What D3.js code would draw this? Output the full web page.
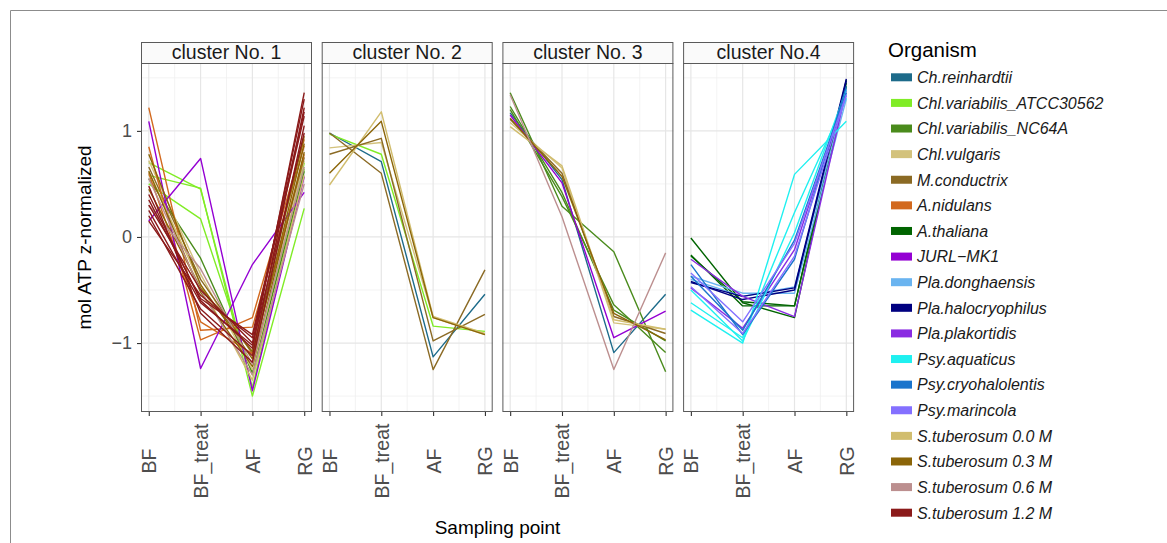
<!DOCTYPE html>
<html>
<head>
<meta charset="utf-8">
<script src="https://cdn.jsdelivr.net/npm/d3@7"></script>
<style>
  html, body { margin: 0; padding: 0; background: #fff; }
  svg { display: block; font-family: "Liberation Sans", Arial, Helvetica, sans-serif; }
</style>
</head>
<body>
<svg id="chart" width="1167" height="543"></svg>
<script>
// Sampling points along the x axis
const samplingPoints = ["BF", "BF_treat", "AF", "RG"];

// Facet titles
const clusterNames = ["cluster No. 1", "cluster No. 2", "cluster No. 3", "cluster No.4"];

// y axis ticks
const yTicks = [-1, 0, 1];

// Organisms in legend order, with their colours
const organisms = [
  "Ch.reinhardtii", "Chl.variabilis_ATCC30562", "Chl.variabilis_NC64A", "Chl.vulgaris",
  "M.conductrix", "A.nidulans", "A.thaliana", "JURL\u2212MK1", "Pla.donghaensis",
  "Pla.halocryophilus", "Pla.plakortidis", "Psy.aquaticus", "Psy.cryohalolentis",
  "Psy.marincola", "S.tuberosum 0.0 M", "S.tuberosum 0.3 M", "S.tuberosum 0.6 M",
  "S.tuberosum 1.2 M"
];
const organismColors = [
  "#1d6b8a", "#80ec26", "#4a8b1c", "#d3c27c",
  "#8b6a24", "#d2691e", "#006400", "#9400d3", "#6ab4f0",
  "#000080", "#8a2be2", "#1ff0f0", "#1a74cc",
  "#8470ff", "#d1bd6e", "#8b6508", "#bc8f8f",
  "#8b1a1a"
];

// z-normalized mol ATP profiles (BF, BF_treat, AF, RG) per cluster
const cluster1 = [
  ["A.nidulans", [1.22, -0.88, -0.85, 0.86]],
  ["A.nidulans", [0.85, -0.97, -0.76, 0.92]],
  ["A.nidulans", [0.60, -0.80, -1.10, 0.78]],
  ["JURL\u2212MK1", [1.09, -1.24, -0.26, 0.42]],
  ["JURL\u2212MK1", [0.15, 0.74, -1.45, 0.57]],
  ["Chl.variabilis_ATCC30562", [0.58, 0.46, -1.50, 0.27]],
  ["Chl.variabilis_ATCC30562", [0.70, 0.45, -1.42, 0.64]],
  ["Chl.variabilis_ATCC30562", [0.50, 0.17, -1.30, 0.70]],
  ["Chl.variabilis_NC64A", [0.55, -0.20, -1.28, 0.62]],
  ["Chl.vulgaris", [0.72, -0.35, -1.25, 0.72]],
  ["M.conductrix", [0.66, -0.40, -1.10, 0.75]],
  ["S.tuberosum 0.0 M", [0.62, -0.45, -1.35, 0.58]],
  ["S.tuberosum 0.3 M", [0.78, -0.45, -1.15, 0.88]],
  ["S.tuberosum 0.3 M", [0.62, -0.52, -1.22, 0.80]],
  ["S.tuberosum 0.3 M", [0.45, -0.48, -1.08, 0.95]],
  ["S.tuberosum 0.6 M", [0.55, -0.50, -1.30, 0.50]],
  ["S.tuberosum 0.6 M", [0.30, -0.30, -1.20, 0.66]],
  ["S.tuberosum 1.2 M", [0.40, -0.60, -1.05, 1.36]],
  ["S.tuberosum 1.2 M", [0.30, -0.50, -1.00, 1.30]],
  ["S.tuberosum 1.2 M", [0.20, -0.68, -1.12, 1.22]],
  ["S.tuberosum 1.2 M", [0.15, -0.55, -0.95, 1.14]],
  ["S.tuberosum 1.2 M", [0.48, -0.72, -1.18, 1.05]],
  ["S.tuberosum 1.2 M", [0.25, -0.62, -1.02, 0.98]],
  ["S.tuberosum 1.2 M", [0.35, -0.58, -0.92, 1.18]]
];
const cluster2 = [
  ["Ch.reinhardtii", [0.98, 0.71, -1.13, -0.54]],
  ["Chl.variabilis_ATCC30562", [0.97, 0.78, -0.84, -0.89]],
  ["Chl.vulgaris", [0.84, 0.89, -0.76, -0.92]],
  ["M.conductrix", [0.78, 0.93, -0.98, -0.73]],
  ["M.conductrix", [0.98, 0.60, -1.25, -0.31]],
  ["S.tuberosum 0.0 M", [0.49, 1.18, -0.75, -0.91]],
  ["S.tuberosum 0.3 M", [0.60, 1.09, -0.76, -0.92]]
];
const cluster3 = [
  ["Ch.reinhardtii", [1.17, 0.54, -1.09, -0.54]],
  ["Chl.variabilis_NC64A", [1.36, 0.29, -0.14, -1.27]],
  ["Chl.variabilis_NC64A", [1.20, 0.38, -0.64, -1.09]],
  ["Chl.variabilis_NC64A", [1.23, 0.42, -0.69, -0.98]],
  ["Chl.vulgaris", [1.08, 0.65, -0.81, -0.87]],
  ["M.conductrix", [1.11, 0.60, -0.75, -0.91]],
  ["JURL\u2212MK1", [1.15, 0.51, -0.95, -0.70]],
  ["S.tuberosum 0.0 M", [1.04, 0.67, -0.78, -0.87]],
  ["S.tuberosum 0.3 M", [1.12, 0.57, -0.72, -0.97]],
  ["S.tuberosum 0.6 M", [1.34, 0.19, -1.25, -0.15]]
];
const cluster4 = [
  ["A.thaliana", [-0.01, -0.62, -0.76, 1.48]],
  ["A.thaliana", [-0.17, -0.65, -0.65, 1.45]],
  ["A.thaliana", [-0.18, -0.61, -0.65, 1.42]],
  ["Pla.donghaensis", [-0.37, -0.53, -0.53, 1.30]],
  ["Pla.donghaensis", [-0.40, -0.56, -0.47, 1.36]],
  ["Pla.halocryophilus", [-0.43, -0.56, -0.48, 1.49]],
  ["Pla.halocryophilus", [-0.42, -0.59, -0.50, 1.47]],
  ["Pla.plakortidis", [-0.21, -0.56, -0.75, 1.39]],
  ["Pla.plakortidis", [-0.48, -0.86, -0.12, 1.39]],
  ["Psy.aquaticus", [-0.69, -1.00, 0.59, 1.09]],
  ["Psy.aquaticus", [-0.50, -0.98, 0.04, 1.39]],
  ["Psy.aquaticus", [-0.62, -0.95, 0.23, 1.31]],
  ["Psy.cryohalolentis", [-0.26, -0.92, -0.21, 1.42]],
  ["Psy.cryohalolentis", [-0.37, -0.88, -0.03, 1.36]],
  ["Psy.marincola", [-0.34, -0.80, -0.06, 1.34]],
  ["Psy.marincola", [-0.47, -0.91, -0.18, 1.33]]
];
const clusterProfiles = [cluster1, cluster2, cluster3, cluster4];

// ---- layout ----
const svg = d3.select("#chart");
const panelLeft = 141, panelW = 171, panelGap = 9.7;
const panelTop = 63, panelBottom = 412;
const stripTop = 42;

const color = d3.scaleOrdinal().domain(organisms).range(organismColors);
const y = d3.scaleLinear().domain([-1.65, 1.64]).range([panelBottom, panelTop]);

// outer frame
svg.append("path")
  .attr("d", "M10.5,543 V10.5 H1167")
  .attr("fill", "none").attr("stroke", "#8c8c8c").attr("stroke-width", 1);

const xPos = samplingPoints.map((d, i) => i + 1);
const xMinor = [1.5, 2.5, 3.5];
const yMinor = [-1.5, -0.5, 0.5, 1.5];

const line = d3.line();

clusterNames.forEach((name, p) => {
  const x0 = panelLeft + p * (panelW + panelGap);
  const x = d3.scaleLinear().domain([0.85, 4.15]).range([x0, x0 + panelW]);
  const g = svg.append("g");

  // grid
  g.selectAll(".minx").data(xMinor).join("line")
    .attr("x1", d => x(d)).attr("x2", d => x(d))
    .attr("y1", panelTop).attr("y2", panelBottom)
    .attr("stroke", "#f0f0f0").attr("stroke-width", 0.8);
  g.selectAll(".miny").data(yMinor).join("line")
    .attr("x1", x0).attr("x2", x0 + panelW)
    .attr("y1", d => y(d)).attr("y2", d => y(d))
    .attr("stroke", "#f0f0f0").attr("stroke-width", 0.8);
  g.selectAll(".majx").data(xPos).join("line")
    .attr("x1", d => x(d)).attr("x2", d => x(d))
    .attr("y1", panelTop).attr("y2", panelBottom)
    .attr("stroke", "#e6e6e6").attr("stroke-width", 1.2);
  g.selectAll(".majy").data(yTicks).join("line")
    .attr("x1", x0).attr("x2", x0 + panelW)
    .attr("y1", d => y(d)).attr("y2", d => y(d))
    .attr("stroke", "#e6e6e6").attr("stroke-width", 1.2);

  // profiles, drawn in legend order so later organisms sit on top
  const rows = clusterProfiles[p].slice().sort((a, b) => organisms.indexOf(a[0]) - organisms.indexOf(b[0]));
  g.selectAll(".profile").data(rows).join("path")
    .attr("fill", "none")
    .attr("stroke", d => color(d[0]))
    .attr("stroke-width", 1.4)
    .attr("stroke-linejoin", "round")
    .attr("d", d => line(d[1].map((v, i) => [x(xPos[i]), y(v)])));

  // panel border
  g.append("rect")
    .attr("x", x0 + 0.5).attr("y", panelTop + 0.5)
    .attr("width", panelW - 1).attr("height", panelBottom - panelTop - 1)
    .attr("fill", "none").attr("stroke", "#5a5a5a").attr("stroke-width", 1);

  // strip
  g.append("rect")
    .attr("x", x0 + 0.5).attr("y", stripTop + 0.5)
    .attr("width", panelW - 1).attr("height", panelTop - stripTop)
    .attr("fill", "#fafafa").attr("stroke", "#5a5a5a").attr("stroke-width", 1);
  g.append("text")
    .attr("x", x0 + panelW / 2).attr("y", (stripTop + panelTop) / 2 + 6.5)
    .attr("text-anchor", "middle").attr("font-size", 19.5).attr("fill", "#1a1a1a")
    .text(name);

  // x axis
  const xAxis = d3.axisBottom(x).tickValues(xPos)
    .tickFormat((d, i) => samplingPoints[i]).tickSizeOuter(0).tickSize(4).tickPadding(4);
  const ax = g.append("g").attr("transform", `translate(0,${panelBottom})`).call(xAxis);
  ax.select(".domain").remove();
  ax.selectAll(".tick line").attr("stroke", "#333").attr("stroke-width", 1.1);
  ax.selectAll(".tick text")
    .attr("font-size", 19.5).attr("fill", "#4d4d4d")
    .attr("font-family", "'Liberation Sans', Arial, sans-serif")
    .attr("text-anchor", "middle").attr("dy", null).attr("y", null)
    .attr("transform", "translate(0,49) rotate(-90)")
    .attr("dominant-baseline", "central");

  // y axis on first panel only
  if (p === 0) {
    const yAxis = d3.axisLeft(y).tickValues(yTicks)
      .tickFormat(d => d < 0 ? "\u2212" + Math.abs(d) : d).tickSizeOuter(0).tickSize(4).tickPadding(5);
    const ay = g.append("g").attr("transform", `translate(${x0},0)`).call(yAxis);
    ay.select(".domain").remove();
    ay.selectAll(".tick line").attr("stroke", "#333").attr("stroke-width", 1.1);
    ay.selectAll(".tick text").attr("font-size", 18).attr("fill", "#4d4d4d")
      .attr("font-family", "'Liberation Sans', Arial, sans-serif");
  }
});

// axis titles
svg.append("text")
  .attr("transform", `translate(91,${(panelTop + panelBottom) / 2}) rotate(-90)`)
  .attr("text-anchor", "middle").attr("font-size", 19).attr("fill", "#000")
  .text("mol ATP z-normalized");
const plotRight = panelLeft + 4 * panelW + 3 * panelGap;
svg.append("text")
  .attr("x", (panelLeft + plotRight) / 2).attr("y", 534)
  .attr("text-anchor", "middle").attr("font-size", 19).attr("fill", "#000")
  .text("Sampling point");

// legend
const legend = svg.append("g").attr("transform", "translate(888,0)");
legend.append("text").attr("x", 0).attr("y", 57)
  .attr("font-size", 20.5).attr("fill", "#000").text("Organism");
const rowY = d3.scalePoint().domain(organisms).range([77.3, 512.7]);
const items = legend.selectAll(".item").data(organisms).join("g")
  .attr("transform", d => `translate(0,${rowY(d)})`);
items.append("rect").attr("x", 3).attr("y", -4).attr("width", 21).attr("height", 8)
  .attr("fill", d => color(d));
items.append("text").attr("x", 29).attr("y", 5.8)
  .attr("font-size", 16).attr("font-style", "italic").attr("fill", "#1a1a1a")
  .text(d => d);
</script>
</body>
</html>
